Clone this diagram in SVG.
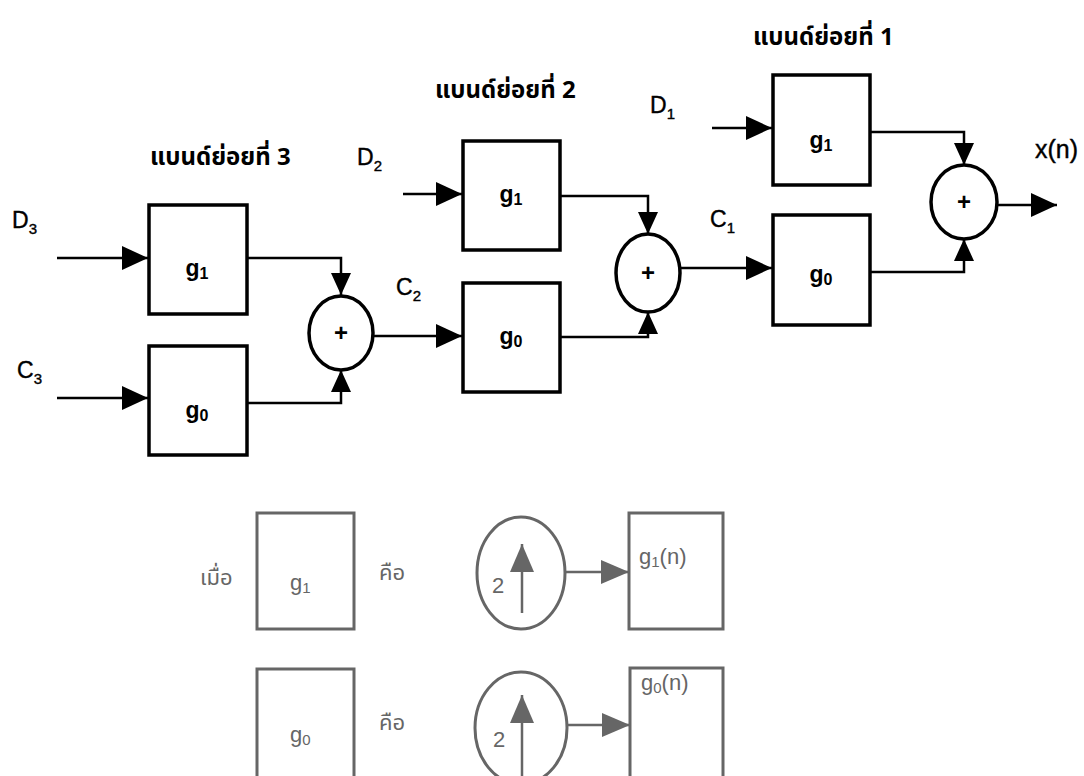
<svg xmlns="http://www.w3.org/2000/svg" width="1084" height="776" viewBox="0 0 1084 776">
<defs>
<style>
.box{fill:none;stroke:#000;stroke-width:3.5}
.sum{fill:none;stroke:#000;stroke-width:3.5}
.ln{fill:none;stroke:#000;stroke-width:2.5}
.lbox{fill:none;stroke:#666;stroke-width:3}
.lln{fill:none;stroke:#666;stroke-width:2.5}
.th{font-family:"Noto Sans Thai","Noto Sans","DejaVu Sans",sans-serif;font-weight:bold;font-size:24px;fill:#000}
.lab{font-family:"Liberation Sans",Arial,sans-serif;font-size:23px;fill:#000;stroke:#000;stroke-width:0.4}
.sub{font-size:15px}
.g{font-family:"Liberation Sans",Arial,sans-serif;font-weight:bold;font-size:23px;fill:#000;text-anchor:middle}
.gs{font-size:16px}
.plus{font-family:"Liberation Sans",Arial,sans-serif;font-weight:bold;font-size:24px;fill:#000;text-anchor:middle}
.lg{font-family:"Liberation Sans",Arial,sans-serif;font-size:22px;fill:#666}
.lth{font-family:"Noto Sans Thai","Noto Sans","DejaVu Sans",sans-serif;font-size:22px;fill:#666}
</style>
<marker id="ah" markerUnits="userSpaceOnUse" viewBox="0 0 26 24" markerWidth="26" markerHeight="24" refX="26" refY="12" orient="auto"><path d="M0,0 L26,12 L0,24 z" fill="#000"/></marker>
<marker id="av" markerUnits="userSpaceOnUse" viewBox="0 0 22 20" markerWidth="22" markerHeight="20" refX="22" refY="10" orient="auto"><path d="M0,0 L22,10 L0,20 z" fill="#000"/></marker>
<marker id="ag" markerUnits="userSpaceOnUse" viewBox="0 0 28 24" markerWidth="28" markerHeight="24" refX="28" refY="12" orient="auto"><path d="M0,0 L28,12 L0,24 z" fill="#666"/></marker>
</defs>
<rect width="1084" height="776" fill="#fff"/>

<!-- titles -->
<text class="th" x="150" y="165">แบนด์ย่อยที่ 3</text>
<text class="th" x="435" y="98">แบนด์ย่อยที่ 2</text>
<text class="th" x="753" y="45">แบนด์ย่อยที่ 1</text>

<!-- signal labels -->
<text class="lab" x="12" y="228">D<tspan class="sub" dy="6">3</tspan></text>
<text class="lab" x="17" y="378">C<tspan class="sub" dy="6">3</tspan></text>
<text class="lab" x="357" y="165">D<tspan class="sub" dy="6">2</tspan></text>
<text class="lab" x="396" y="295">C<tspan class="sub" dy="6">2</tspan></text>
<text class="lab" x="650" y="113">D<tspan class="sub" dy="6">1</tspan></text>
<text class="lab" x="710" y="227">C<tspan class="sub" dy="6">1</tspan></text>
<text class="lab" x="1035" y="158" style="font-size:25px">x(n)</text>

<!-- stage 3 -->
<g id="s3g1"><rect class="box" x="149" y="205" width="98" height="109"/><text class="g" x="197" y="276">g<tspan class="gs" dy="3">1</tspan></text></g>
<g id="s3g0"><rect class="box" x="149" y="346" width="98" height="109"/><text class="g" x="197" y="418">g<tspan class="gs" dy="3">0</tspan></text></g>
<g id="s3sum"><ellipse class="sum" cx="341" cy="333" rx="32" ry="37"/><text class="plus" x="341" y="341">+</text></g>

<!-- stage 2 -->
<g id="s2g1"><rect class="box" x="463" y="141" width="97" height="109"/><text class="g" x="511" y="202">g<tspan class="gs" dy="3">1</tspan></text></g>
<g id="s2g0"><rect class="box" x="463" y="283" width="97" height="109"/><text class="g" x="511" y="344">g<tspan class="gs" dy="3">0</tspan></text></g>
<g id="s2sum"><ellipse class="sum" cx="648" cy="273" rx="32" ry="39"/><text class="plus" x="648" y="281">+</text></g>

<!-- stage 1 -->
<g id="s1g1"><rect class="box" x="773" y="75" width="97" height="110"/><text class="g" x="821" y="148">g<tspan class="gs" dy="3">1</tspan></text></g>
<g id="s1g0"><rect class="box" x="773" y="215" width="97" height="110"/><text class="g" x="821" y="282">g<tspan class="gs" dy="3">0</tspan></text></g>
<g id="s1sum"><ellipse class="sum" cx="964" cy="202" rx="33" ry="37"/><text class="plus" x="964" y="210">+</text></g>

<!-- connectors -->
<g id="connectors">
<path class="ln" d="M57,258 H148" marker-end="url(#ah)"/>
<path class="ln" d="M57,398 H148" marker-end="url(#ah)"/>
<path class="ln" d="M247,258 H341 V295" marker-end="url(#av)"/>
<path class="ln" d="M247,403 H341 V370" marker-end="url(#av)"/>
<path class="ln" d="M373,336 H462" marker-end="url(#ah)"/>
<path class="ln" d="M403,194 H462" marker-end="url(#ah)"/>
<path class="ln" d="M560,196 H648 V234" marker-end="url(#av)"/>
<path class="ln" d="M560,337 H648 V312" marker-end="url(#av)"/>
<path class="ln" d="M680,268 H772" marker-end="url(#ah)"/>
<path class="ln" d="M712,128 H772" marker-end="url(#ah)"/>
<path class="ln" d="M870,132 H964 V165" marker-end="url(#av)"/>
<path class="ln" d="M870,272 H964 V239" marker-end="url(#av)"/>
<path class="ln" d="M997,205 H1057" marker-end="url(#ah)"/>
</g>

<!-- legend -->
<text class="lth" x="200" y="585">เมื่อ</text>
<g id="lg1"><rect class="lbox" x="257" y="513" width="97" height="116"/><text class="lg" x="290" y="590">g<tspan class="sub" dy="3">1</tspan></text></g>
<text class="lth" x="379" y="580">คือ</text>
<g id="lup1"><ellipse class="lbox" cx="521" cy="573" rx="44" ry="56"/><path class="lln" d="M522,613 V544" marker-end="url(#ag)"/><text class="lg" x="492" y="593">2</text></g>
<g id="lg1n"><rect class="lbox" x="629" y="513" width="94" height="116"/><text class="lg" x="639" y="564">g<tspan class="sub" dy="3">1</tspan><tspan dy="-3">(n)</tspan></text></g>

<g id="lg0"><rect class="lbox" x="257" y="669" width="97" height="140"/><text class="lg" x="290" y="742">g<tspan class="sub" dy="3">0</tspan></text></g>
<text class="lth" x="379" y="730">คือ</text>
<g id="lup0"><ellipse class="lbox" cx="521" cy="728" rx="46" ry="56"/><path class="lln" d="M522,790 V695" marker-end="url(#ag)"/><text class="lg" x="493" y="747">2</text></g>
<g id="lg0n"><rect class="lbox" x="630" y="668" width="93" height="140"/><text class="lg" x="641" y="690">g<tspan class="sub" dy="3">0</tspan><tspan dy="-3">(n)</tspan></text></g>
<g id="lconn">
<path class="lln" d="M565,572 H629" marker-end="url(#ag)"/>
<path class="lln" d="M567,725 H630" marker-end="url(#ag)"/>
</g>
</svg>
